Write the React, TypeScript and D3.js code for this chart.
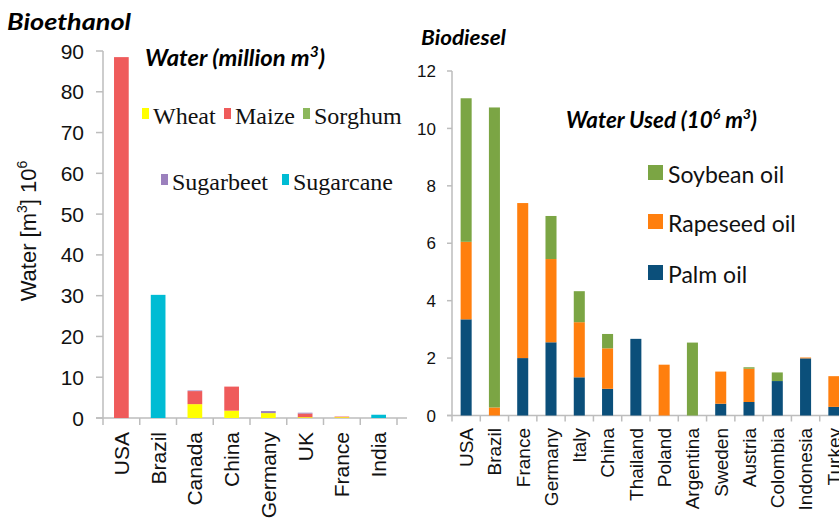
import * as d3 from "d3";

const bioCountries = ["USA", "Brazil", "Canada", "China", "Germany", "UK", "France", "India"];
const bioCrops = ["Wheat", "Maize", "Sorghum", "Sugarbeet", "Sugarcane"];
const wheat = [0, 0, 3.4, 1.8, 1.2, 0.2, 0.2, 0];
const maize = [88.5, 0, 3.2, 5.9, 0, 0.9, 0.15, 0];
const sorghum = [0, 0, 0, 0, 0, 0, 0, 0];
const sugarbeet = [0, 0, 0.15, 0, 0.5, 0.2, 0, 0];
const sugarcane = [0, 30.2, 0, 0, 0, 0, 0, 0.8];
const bioTicks = [0, 10, 20, 30, 40, 50, 60, 70, 80, 90];

const dieselCountries = [
  "USA", "Brazil", "France", "Germany", "Italy", "China", "Thailand",
  "Poland", "Argentina", "Sweden", "Austria", "Colombia", "Indonesia", "Turkey",
];
const dieselOils = ["Palm oil", "Rapeseed oil", "Soybean oil"];
const palm = [3.35, 0, 2.0, 2.55, 1.33, 0.93, 2.67, 0, 0, 0.41, 0.47, 1.2, 1.99, 0.3];
const rapeseed = [2.7, 0.28, 5.4, 2.9, 1.92, 1.41, 0, 1.77, 0, 1.12, 1.16, 0, 0.03, 1.07];
const soybean = [5.0, 10.45, 0, 1.5, 1.08, 0.5, 0, 0, 2.54, 0, 0.05, 0.3, 0, 0];
const dieselTicks = [0, 2, 4, 6, 8, 10, 12];

const bioColors: Record<string, string> = {
  Wheat: "#ffff00",
  Maize: "#ef5b5b",
  Sorghum: "#8cb85c",
  Sugarbeet: "#9b80bd",
  Sugarcane: "#00bcd4",
};
const oilColors: Record<string, string> = {
  "Palm oil": "#0b4f7a",
  "Rapeseed oil": "#ff7f0e",
  "Soybean oil": "#7ba544",
};

const axisGrey = "#bdbdbd";
const sans = "'Liberation Sans', Arial, sans-serif";
const calibri = "Lato, 'Open Sans', sans-serif";

function App() {
  // left chart: bioethanol
  const bioRows = bioCountries.map((c, i) => ({
    country: c,
    Wheat: wheat[i],
    Maize: maize[i],
    Sorghum: sorghum[i],
    Sugarbeet: sugarbeet[i],
    Sugarcane: sugarcane[i],
  }));
  const bioStack = d3.stack<any>().keys(bioCrops)(bioRows);
  const xL = d3.scaleBand().domain(bioCountries).range([103, 397]).padding(0);
  const yL = d3.scaleLinear().domain([0, 90]).range([418, 51]);
  const barWL = xL.bandwidth() * 0.4;

  // right chart: biodiesel
  const dieselRows = dieselCountries.map((c, i) => ({
    country: c,
    "Palm oil": palm[i],
    "Rapeseed oil": rapeseed[i],
    "Soybean oil": soybean[i],
  }));
  const dieselStack = d3.stack<any>().keys(dieselOils)(dieselRows);
  const xR = d3.scaleBand().domain(dieselCountries).range([452, 848]).padding(0);
  const yR = d3.scaleLinear().domain([0, 12]).range([415.5, 71]);
  const barWR = xR.bandwidth() * 0.39;

  return (
    <div style={{ position: "fixed", left: 0, top: 0 }}>
      <svg width={839} height={518} style={{ display: "block", background: "#fff" }}>
        {/* Bioethanol */}
        <text
          x={7}
          y={30}
          fontFamily={calibri}
          fontWeight={700}
          fontStyle="italic"
          fontSize={23}
          textLength={124}
          lengthAdjust="spacingAndGlyphs"
        >
          Bioethanol
        </text>
        <text
          x={145}
          y={66}
          fontFamily={calibri}
          fontWeight={700}
          fontStyle="italic"
          fontSize={23}
          textLength={180}
          lengthAdjust="spacingAndGlyphs"
        >
          Water (million m<tspan fontSize={15} dy={-9}>3</tspan>
          <tspan dy={9}>)</tspan>
        </text>

        {/* y axis */}
        <line x1={103} x2={103} y1={yL(90)} y2={yL(0)} stroke={axisGrey} strokeWidth={1.5} />
        {bioTicks.map((t) => (
          <g key={t}>
            <line x1={96} x2={103} y1={yL(t)} y2={yL(t)} stroke={axisGrey} strokeWidth={1.5} />
            <text x={84} y={yL(t)} dy="0.36em" textAnchor="end" fontFamily={sans} fontSize={21} fill="#111">
              {t}
            </text>
          </g>
        ))}
        <text
          transform="translate(36,231) rotate(-90)"
          textAnchor="middle"
          fontFamily={sans}
          fontSize={22}
          fill="#111"
        >
          Water [m<tspan fontSize={14} dy={-9}>3</tspan>
          <tspan dy={9}>] 10</tspan>
          <tspan fontSize={14} dy={-9}>6</tspan>
        </text>

        {/* x axis */}
        <line x1={96} x2={407} y1={yL(0)} y2={yL(0)} stroke={axisGrey} strokeWidth={1.5} />
        {[...bioCountries.map((c) => xL(c)!), 397].map((x, i) => (
          <line key={i} x1={x} x2={x} y1={yL(0)} y2={yL(0) + 7} stroke={axisGrey} strokeWidth={1.5} />
        ))}
        {bioCountries.map((c) => (
          <text
            key={c}
            transform={`translate(${xL(c)! + xL.bandwidth() / 2},432) rotate(-90)`}
            textAnchor="end"
            dy="0.36em"
            fontFamily={sans}
            fontSize={21}
            fill="#111"
          >
            {c}
          </text>
        ))}

        {/* bars */}
        {bioStack.map((layer) => (
          <g key={layer.key} fill={bioColors[layer.key]}>
            {layer.map((d, i) =>
              d[1] - d[0] > 0 ? (
                <rect
                  key={i}
                  x={xL(bioCountries[i])! + (xL.bandwidth() - barWL) / 2}
                  y={yL(d[1])}
                  width={barWL}
                  height={yL(d[0]) - yL(d[1])}
                />
              ) : null
            )}
          </g>
        ))}

        {/* legend */}
        {[
          { k: "Wheat", x: 142, y: 124 },
          { k: "Maize", x: 224, y: 124 },
          { k: "Sorghum", x: 303, y: 124 },
          { k: "Sugarbeet", x: 161, y: 190 },
          { k: "Sugarcane", x: 282, y: 190 },
        ].map((l) => (
          <g key={l.k}>
            <rect x={l.x} y={l.y - 16} width={7} height={11} fill={bioColors[l.k]} />
            <text x={l.x + 11} y={l.y} fontFamily="'Liberation Serif', serif" fontSize={24} fill="#111">
              {l.k}
            </text>
          </g>
        ))}

        {/* Biodiesel */}
        <text
          x={421}
          y={45}
          fontFamily={calibri}
          fontWeight={700}
          fontStyle="italic"
          fontSize={21}
          textLength={85}
          lengthAdjust="spacingAndGlyphs"
        >
          Biodiesel
        </text>
        <text
          x={566}
          y={128}
          fontFamily={calibri}
          fontWeight={700}
          fontStyle="italic"
          fontSize={22}
          textLength={191}
          lengthAdjust="spacingAndGlyphs"
        >
          Water Used (10<tspan fontSize={14} dy={-9}>6</tspan>
          <tspan dy={9}> m</tspan>
          <tspan fontSize={14} dy={-9}>3</tspan>
          <tspan dy={9}>)</tspan>
        </text>

        <line x1={452} x2={452} y1={yR(12)} y2={yR(0)} stroke={axisGrey} strokeWidth={1.5} />
        {dieselTicks.map((t) => (
          <g key={t}>
            <line x1={447} x2={452} y1={yR(t)} y2={yR(t)} stroke={axisGrey} strokeWidth={1.5} />
            <text x={436} y={yR(t)} dy="0.36em" textAnchor="end" fontFamily={sans} fontSize={17} fill="#111">
              {t}
            </text>
          </g>
        ))}

        <line x1={447} x2={848} y1={yR(0)} y2={yR(0)} stroke={axisGrey} strokeWidth={1.5} />
        {dieselCountries.map((c) => (
          <line
            key={c}
            x1={xR(c)!}
            x2={xR(c)!}
            y1={yR(0)}
            y2={yR(0) + 6}
            stroke={axisGrey}
            strokeWidth={1.5}
          />
        ))}
        {dieselCountries.map((c) => (
          <text
            key={c}
            transform={`translate(${xR(c)! + xR.bandwidth() / 2},428) rotate(-90)`}
            textAnchor="end"
            dy="0.36em"
            fontFamily={sans}
            fontSize={19}
            fill="#111"
          >
            {c}
          </text>
        ))}

        {dieselStack.map((layer) => (
          <g key={layer.key} fill={oilColors[layer.key]}>
            {layer.map((d, i) =>
              d[1] - d[0] > 0 ? (
                <rect
                  key={i}
                  x={xR(dieselCountries[i])! + (xR.bandwidth() - barWR) / 2}
                  y={yR(d[1])}
                  width={barWR}
                  height={yR(d[0]) - yR(d[1])}
                />
              ) : null
            )}
          </g>
        ))}

        {[
          { k: "Soybean oil", y: 183 },
          { k: "Rapeseed oil", y: 232 },
          { k: "Palm oil", y: 283 },
        ].map((l) => (
          <g key={l.k}>
            <rect x={648} y={l.y - 18} width={15} height={15} fill={oilColors[l.k]} />
            <text
              x={668}
              y={l.y}
              fontFamily={calibri}
              fontSize={23}
              fill="#111"
            >
              {l.k}
            </text>
          </g>
        ))}
      </svg>
    </div>
  );
}

export default App;
